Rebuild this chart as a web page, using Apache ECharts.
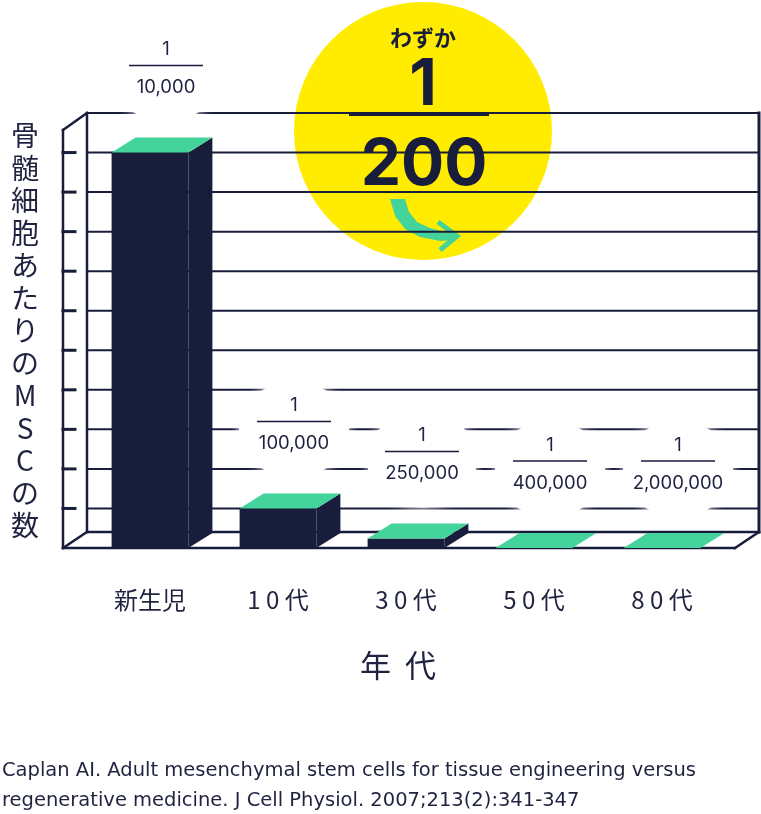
<!DOCTYPE html>
<html>
<head>
<meta charset="utf-8">
<script src="https://cdn.jsdelivr.net/npm/echarts@6/dist/echarts.min.js"></script>
<style>
  html, body { margin: 0; padding: 0; background: #fff; }
  #chart { width: 761px; height: 814px; }
</style>
</head>
<body>
<div id="chart"></div>
<script>
// ----- data -----
var categories = ['新生児', '10代', '30代', '50代', '80代'];
// MSC per 1,000,000 marrow cells
var mscPerMillion = [100, 10, 2.4, 0, 0];
// fraction labels above the bars (1 / n)
var denominators = ['10,000', '100,000', '250,000', '400,000', '2,000,000'];

var NAVY = '#181d3b';
var GREEN = '#43d39b';
var YELLOW = '#ffec00';
var TEXT = '#1f2340';
var DX = 24, DY = 15;   // fake depth of the boxes

var chart = echarts.init(document.getElementById('chart'));

function ln(arr, x1, y1, x2, y2, w) {
    arr.push({
        type: 'line',
        shape: { x1: x1, y1: y1, x2: x2, y2: y2 },
        style: { stroke: NAVY, lineWidth: w, lineCap: 'square' }
    });
}

// back wall, side wall, floor
function renderFrame(params, api) {
    var cs = params.coordSys;
    var fl = cs.x - 23, fr = cs.x + cs.width + 9;
    var bl = fl + DX, br = fr + DX;
    var yF = cs.y + cs.height, yB = yF - 16, yTop = cs.y;
    var c = [];
    var v, y;
    for (v = 10; v <= 110; v += 10) {
        y = api.coord([0, v])[1];
        ln(c, bl, y, br, y, 2);
    }
    for (v = 10; v <= 100; v += 10) {
        y = api.coord([0, v])[1];
        ln(c, fl, y, fl + 12, y, 3);
    }
    ln(c, fl, yTop + 17, fl, yF, 2.5);
    ln(c, fl, yTop + 17, bl, yTop, 2.5);
    ln(c, bl, yTop, bl, yB, 2.5);
    ln(c, fl, yF, bl, yB, 2.5);
    ln(c, fl, yF, fr, yF, 2.5);
    ln(c, bl, yB, br, yB, 2.5);
    ln(c, fr, yF, br, yB, 2.5);
    ln(c, br, yTop, br, yB, 3);
    return { type: 'group', children: c };
}

function renderBar(params, api) {
    var idx = api.value(0), val = api.value(1);
    var base = api.coord([idx, 0]);
    var top = api.coord([idx, val]);
    var half = api.size([1, 0])[0] * 0.3;
    var x0 = base[0] - half, x1 = base[0] + half;
    var yb = base[1], yt = top[1];
    var lx = base[0] + 16, ly = yt - 87;
    var c = [];

    // soft white patch behind the fraction
    c.push({
        type: 'ellipse',
        shape: { cx: lx, cy: ly + 8, rx: 55, ry: 48 },
        style: { fill: '#fff', shadowBlur: 10, shadowColor: '#fff' }
    });
    c.push({
        type: 'line',
        shape: { x1: lx - 37, y1: ly, x2: lx + 37, y2: ly },
        style: { stroke: NAVY, lineWidth: 1.5 }
    });
    c.push({
        type: 'text',
        style: { text: '1', x: lx, y: ly - 16, fill: TEXT, font: '18.5px Inter',
                 textAlign: 'center', textVerticalAlign: 'middle' }
    });
    c.push({
        type: 'text',
        style: { text: denominators[params.dataIndex], x: lx, y: ly + 22, fill: TEXT,
                 font: '18.5px Inter', textAlign: 'center', textVerticalAlign: 'middle' }
    });

    if (yb - yt > 0.5) {
        c.push({
            type: 'rect',
            shape: { x: x0, y: yt, width: x1 - x0, height: yb - yt },
            style: { fill: NAVY }
        });
        c.push({
            type: 'polygon',
            shape: { points: [[x1, yt], [x1 + DX, yt - DY], [x1 + DX, yb - DY], [x1, yb]] },
            style: { fill: NAVY }
        });
    }
    c.push({
        type: 'polygon',
        shape: { points: [[x0, yt], [x1, yt], [x1 + DX, yt - DY], [x0 + DX, yt - DY]] },
        style: { fill: GREEN }
    });
    return { type: 'group', children: c };
}

var barData = categories.map(function (c, i) { return [i, mscPerMillion[i]]; });

var option = {
    animation: false,
    grid: { left: 86, right: 35, top: 113, bottom: 266 },
    xAxis: {
        type: 'category',
        data: categories,
        axisLine: { show: false },
        axisTick: { show: false },
        axisLabel: {
            margin: 40,
            fontSize: 24,
            color: TEXT,
            fontFamily: 'Noto Sans CJK JP',
            formatter: function (v) { return v.replace(/(\d)/g, '$1 '); }
        },
        name: '年  代',
        nameLocation: 'middle',
        nameGap: 102,
        nameTextStyle: {
            fontSize: 31, color: TEXT, fontFamily: 'Noto Sans CJK JP',
            padding: [0, 16, 0, 0]
        }
    },
    yAxis: {
        type: 'value',
        min: 0,
        max: 110,
        interval: 10,
        axisLine: { show: false },
        axisTick: { show: false },
        axisLabel: { show: false },
        splitLine: { show: false },
        name: '骨\n髄\n細\n胞\nあ\nた\nり\nの\nM\nS\nC\nの\n数',
        nameLocation: 'middle',
        nameRotate: 0,
        nameGap: 61,
        nameTextStyle: {
            fontSize: 28, lineHeight: 32.5, color: TEXT,
            fontFamily: 'Noto Sans CJK JP', align: 'center', verticalAlign: 'middle'
        }
    },
    series: [
        {
            type: 'custom',
            z: 1,
            renderItem: renderFrame,
            data: [[0, 0]],
            silent: true
        },
        {
            type: 'custom',
            z: 2,
            renderItem: renderBar,
            data: barData,
            encode: { x: 0, y: 1 }
        }
    ],
    graphic: [
        {
            type: 'group',
            z: 100,
            children: [
                { type: 'circle', shape: { cx: 423, cy: 131, r: 129 }, style: { fill: YELLOW } },
                { type: 'text', style: { text: 'わずか', x: 423, y: 38, fill: NAVY,
                    font: 'bold 22px "Noto Sans CJK JP"', textAlign: 'center', textVerticalAlign: 'middle' } },
                { type: 'text', style: { text: '1', x: 423, y: 86, fill: NAVY,
                    font: 'bold 64px Inter', textAlign: 'center', textVerticalAlign: 'middle' } },
                { type: 'line', shape: { x1: 349, y1: 114, x2: 489, y2: 114 },
                    style: { stroke: NAVY, lineWidth: 4 } },
                { type: 'text', style: { text: '200', x: 424, y: 166, fill: NAVY,
                    font: 'bold 64px Inter', textAlign: 'center', textVerticalAlign: 'middle' } },
                { type: 'polygon', shape: { points: [
                    [390, 199], [405, 199], [409, 212], [417, 222], [430, 228], [445, 232], [455, 234],
                    [455, 240], [440, 241], [420, 237], [405, 229], [395, 216]
                ] }, style: { fill: GREEN } },
                { type: 'polyline', shape: { points: [[438, 222], [457, 236], [440, 250]] },
                    style: { stroke: GREEN, lineWidth: 5, fill: null } }
            ]
        },
        {
            type: 'text',
            left: 2,
            top: 756,
            style: {
                text: 'Caplan AI. Adult mesenchymal stem cells for tissue engineering versus\nregenerative medicine. J Cell Physiol. 2007;213(2):341-347',
                font: '19.5px "DejaVu Sans"',
                lineHeight: 30,
                fill: TEXT
            }
        }
    ]
};

chart.setOption(option);
</script>
</body>
</html>
